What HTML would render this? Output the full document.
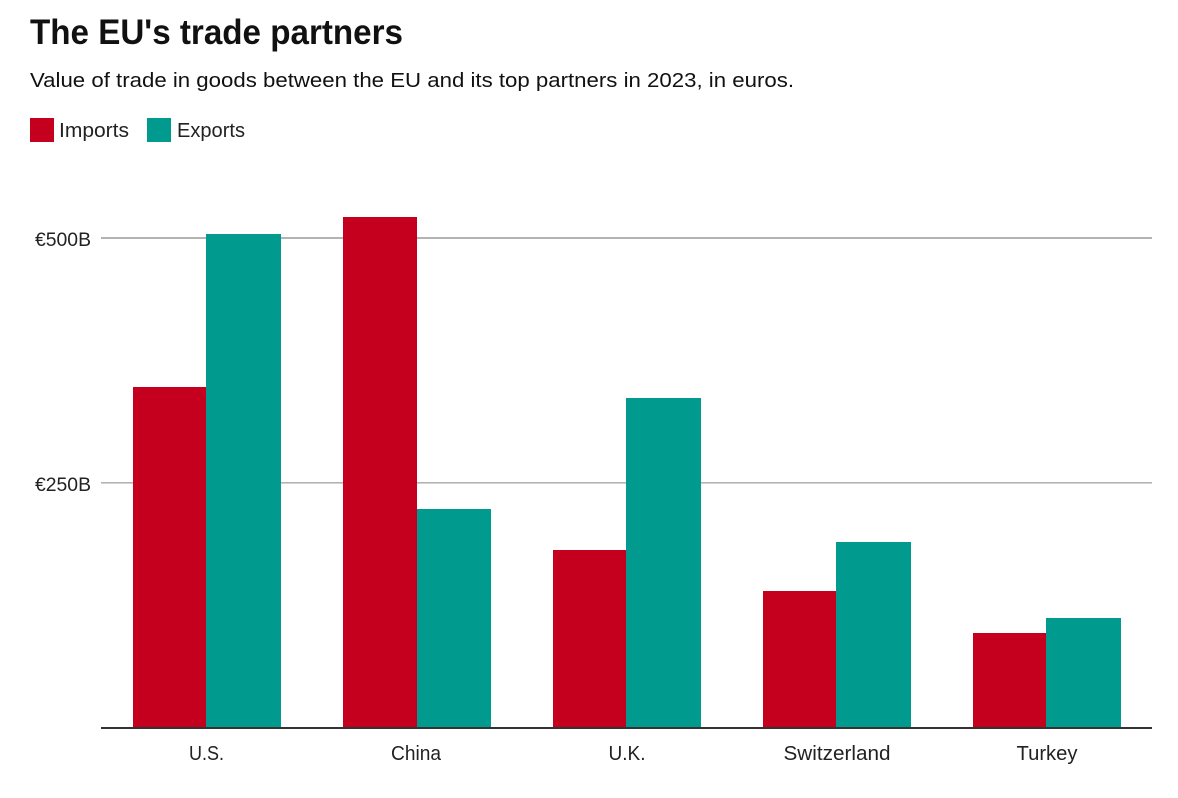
<!DOCTYPE html>
<html>
<head>
<meta charset="utf-8">
<style>
html,body{margin:0;padding:0;background:#fff;}
svg{display:block;}
text{font-family:"Liberation Sans",sans-serif;}
</style>
</head>
<body>
<svg width="1178" height="798" viewBox="0 0 1178 798" xmlns="http://www.w3.org/2000/svg">
  <rect x="0" y="0" width="1178" height="798" fill="#fff"/>
  <text x="30" y="44" font-size="35" font-weight="bold" fill="#111" textLength="373" lengthAdjust="spacingAndGlyphs">The EU's trade partners</text>
  <text x="30" y="87" font-size="20" fill="#111" textLength="764" lengthAdjust="spacingAndGlyphs">Value of trade in goods between the EU and its top partners in 2023, in euros.</text>

  <rect x="30" y="118" width="24" height="24" fill="#c5001f"/>
  <text x="59" y="137" font-size="20" fill="#222" textLength="70" lengthAdjust="spacingAndGlyphs">Imports</text>
  <rect x="147" y="118" width="24" height="24" fill="#009b8e"/>
  <text x="177" y="137" font-size="20" fill="#222" textLength="68" lengthAdjust="spacingAndGlyphs">Exports</text>

  <rect x="101" y="237" width="1051" height="2" fill="#b3b3b3"/>
  <rect x="101" y="482" width="1051" height="1.6" fill="#b3b3b3"/>
  <text x="35" y="246" font-size="19" fill="#222" textLength="56" lengthAdjust="spacingAndGlyphs">€500B</text>
  <text x="35" y="491" font-size="19" fill="#222" textLength="56" lengthAdjust="spacingAndGlyphs">€250B</text>

  <rect x="133" y="387" width="73" height="341" fill="#c5001f"/>
  <rect x="206" y="234" width="75" height="494" fill="#009b8e"/>
  <rect x="343" y="217" width="74" height="511" fill="#c5001f"/>
  <rect x="417" y="509" width="74" height="219" fill="#009b8e"/>
  <rect x="553" y="550" width="73" height="178" fill="#c5001f"/>
  <rect x="626" y="398" width="75" height="330" fill="#009b8e"/>
  <rect x="763" y="591" width="73" height="137" fill="#c5001f"/>
  <rect x="836" y="542" width="75" height="186" fill="#009b8e"/>
  <rect x="973" y="633" width="73" height="95" fill="#c5001f"/>
  <rect x="1046" y="618" width="75" height="110" fill="#009b8e"/>

  <rect x="101" y="727" width="1051" height="2" fill="#333"/>

  <text x="206.5" y="760" font-size="20" fill="#222" text-anchor="middle" textLength="35" lengthAdjust="spacingAndGlyphs">U.S.</text>
  <text x="416" y="760" font-size="20" fill="#222" text-anchor="middle" textLength="50" lengthAdjust="spacingAndGlyphs">China</text>
  <text x="627" y="760" font-size="20" fill="#222" text-anchor="middle" textLength="37" lengthAdjust="spacingAndGlyphs">U.K.</text>
  <text x="837" y="760" font-size="20" fill="#222" text-anchor="middle" textLength="107" lengthAdjust="spacingAndGlyphs">Switzerland</text>
  <text x="1047" y="760" font-size="20" fill="#222" text-anchor="middle" textLength="61" lengthAdjust="spacingAndGlyphs">Turkey</text>
</svg>
</body>
</html>
